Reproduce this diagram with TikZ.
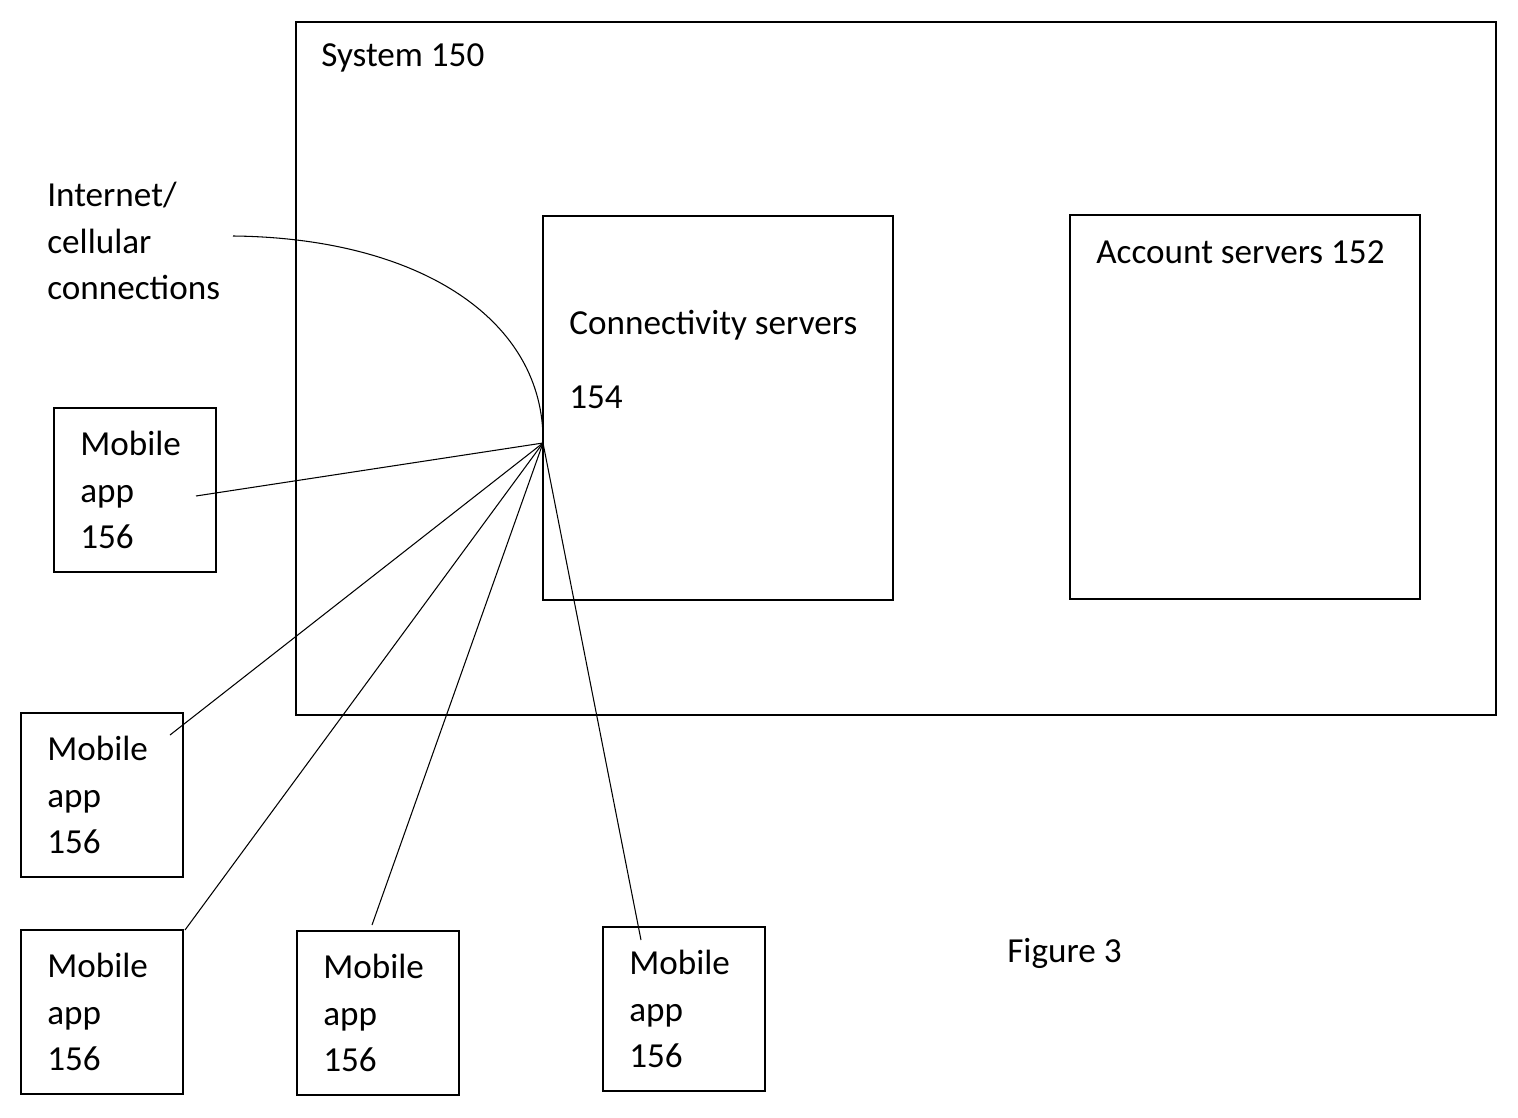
\documentclass[tikz,border=0pt]{standalone}
\usepackage{fontspec}
\setmainfont{Carlito}
\begin{document}
\begin{tikzpicture}[x=0.02cm,y=-0.02cm,
  box/.style={draw,thick,line width=1.2pt},
  lbl/.style={anchor=west,inner sep=0pt,font=\fontsize{20}{26.6}\selectfont,align=left},
  wire/.style={line width=0.6pt}]
  \useasboundingbox (0,0) rectangle (1518,1118);
  \draw[box] (296,22) rectangle (1496,715);
  \draw[box] (543,216) rectangle (893,600);
  \draw[box] (1070,215) rectangle (1420,599);
  \node[lbl] (sys) at (321,58) {System 150};
  \node[lbl] (net) at (47,241) {Internet/\\cellular\\connections};
  \node[lbl] (conn) at (569,325) {Connectivity servers};
  \node[lbl] (cnum) at (569,397) {154};
  \node[lbl] (acc) at (1096,252) {Account servers 152};
  \node[lbl] (fig) at (1007,953) {Figure 3};
  % mobile apps
  \foreach \name/\x/\y in {a/54/408, b/21/713, c/21/930, d/297/931, e/603/927}{
    \draw[box] (\x,\y) rectangle ++(162,164);
    \node[lbl] (\name) at (\x+26,\y+82) {Mobile\\app\\156};
  }
  \coordinate (hub) at (543,443);
  \coordinate (ca) at (196,496);
  \coordinate (cb) at (170,735);
  \coordinate (cc) at (185,930);
  \coordinate (cd) at (372,925);
  \coordinate (ce) at (641,940);
  \coordinate (cn) at (233,236);
  \draw[wire] (cn) .. controls (420,238) and (545,320) .. (hub);
  \foreach \c in {ca,cb,cc,cd,ce}
    \draw[wire] (hub) -- (\c);
\end{tikzpicture}
\end{document}
